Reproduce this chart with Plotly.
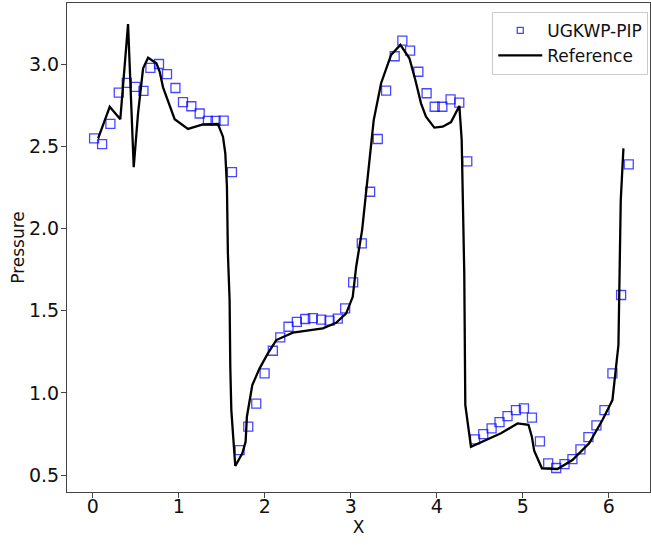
import plotly.graph_objects as go

# UGKWP-PIP markers
ugk_x = [0.015, 0.108, 0.205, 0.302, 0.395, 0.496, 0.589, 0.670, 0.770, 0.863, 0.961,
         1.049, 1.146, 1.243, 1.339, 1.428, 1.522, 1.618,
         1.707, 1.808, 1.901, 1.998, 2.094, 2.180, 2.276, 2.373, 2.470, 2.559, 2.656,
         2.753, 2.849, 2.935, 3.028,
         3.128, 3.225, 3.314, 3.411, 3.511, 3.600, 3.690, 3.786, 3.882, 3.976, 4.065,
         4.161, 4.262, 4.355,
         4.445, 4.541, 4.638, 4.730, 4.823, 4.921, 5.014, 5.107, 5.200, 5.296, 5.389,
         5.486, 5.578, 5.671, 5.764, 5.857, 5.950, 6.043, 6.144, 6.233]
ugk_p = [2.548, 2.513, 2.636, 2.826, 2.885, 2.861, 2.836, 2.976, 3.000, 2.939, 2.854,
         2.768, 2.743, 2.699, 2.654, 2.654, 2.656, 2.343,
         0.652, 0.794, 0.934, 1.119, 1.256, 1.338, 1.402, 1.432, 1.449, 1.455, 1.445,
         1.439, 1.451, 1.514, 1.672,
         1.909, 2.223, 2.544, 2.838, 3.047, 3.142, 3.081, 2.953, 2.822, 2.740, 2.740,
         2.785, 2.765, 2.408,
         0.717, 0.749, 0.784, 0.822, 0.859, 0.895, 0.906, 0.849, 0.705, 0.571, 0.543,
         0.567, 0.597, 0.656, 0.731, 0.802, 0.895, 1.119, 1.595, 2.390]

# Reference solution
ref_x = [0.062, 0.197, 0.320, 0.410, 0.476, 0.526, 0.585, 0.643, 0.740, 0.778, 0.817,
         0.952, 1.107, 1.281, 1.455, 1.514, 1.541, 1.560, 1.571, 1.591, 1.599, 1.611,
         1.657, 1.739, 1.777, 1.792, 1.855, 1.940, 2.036, 2.134, 2.326, 2.675, 2.830,
         2.947, 3.023, 3.063, 3.132, 3.159, 3.210, 3.267, 3.353, 3.469, 3.577, 3.682,
         3.751, 3.817, 3.875, 3.972, 4.069, 4.166, 4.263, 4.290, 4.320, 4.332, 4.398,
         4.747, 4.940, 5.067, 5.106, 5.133, 5.223, 5.404, 5.578, 5.772, 5.927, 6.043,
         6.113, 6.121, 6.140, 6.171]
ref_p = [2.548, 2.740, 2.664, 3.243, 2.372, 2.700, 2.974, 3.038, 3.004, 2.953, 2.858,
         2.664, 2.605, 2.633, 2.635, 2.558, 2.457, 2.254, 1.850, 1.564, 1.159, 0.895,
         0.555, 0.632, 0.703, 0.855, 1.047, 1.149, 1.240, 1.321, 1.366, 1.392, 1.426,
         1.483, 1.584, 1.767, 1.990, 2.132, 2.375, 2.659, 2.883, 3.055, 3.116, 3.035,
         2.903, 2.761, 2.680, 2.613, 2.619, 2.647, 2.745, 2.538, 1.727, 0.926, 0.672,
         0.754, 0.814, 0.806, 0.733, 0.648, 0.541, 0.537, 0.591, 0.693, 0.835, 0.956,
         1.291, 1.605, 2.173, 2.487]

x_ticks = [0, 1, 2, 3, 4, 5, 6]
y_ticks = [0.5, 1.0, 1.5, 2.0, 2.5, 3.0]
y_tick_text = ["0.5", "1.0", "1.5", "2.0", "2.5", "3.0"]

blue = "rgba(0,0,255,0.72)"
fig = go.Figure()
fig.add_trace(go.Scatter(
    x=ugk_x, y=ugk_p, mode="markers", name="UGKWP-PIP", showlegend=False,
    marker=dict(symbol="square-open", size=9, color=blue,
                line=dict(width=1.3, color=blue))))
# legend entry with a smaller symbol, like the reference legend
fig.add_trace(go.Scatter(
    x=[None], y=[None], mode="markers", name="UGKWP-PIP",
    marker=dict(symbol="square-open", size=6, color=blue,
                line=dict(width=1.3, color=blue))))
fig.add_trace(go.Scatter(
    x=ref_x, y=ref_p, mode="lines", name="Reference",
    line=dict(color="black", width=2.3)))

font_family = "DejaVu Sans"
fig.update_layout(
    width=651, height=545,
    margin=dict(l=67, r=1, t=3, b=53),
    paper_bgcolor="white", plot_bgcolor="white",
    font=dict(family=font_family, size=17, color="#111"),
    showlegend=True,
    legend=dict(x=0.997, y=0.982, xanchor="right", yanchor="top",
                bgcolor="rgba(255,255,255,0.9)", bordercolor="#cccccc", borderwidth=1,
                font=dict(size=17, family=font_family, color="#111"),
                tracegroupgap=0, itemwidth=44),
    xaxis=dict(range=[-0.30, 6.48], tickvals=x_ticks, ticks="outside", ticklen=5,
               tickwidth=1, tickcolor="#444", showline=True, linecolor="#444",
               linewidth=1, mirror=True, showgrid=False, zeroline=False,
               ticklabelstandoff=-8,
               title=dict(text="X", font=dict(size=17), standoff=2),
               tickfont=dict(size=19)),
    yaxis=dict(range=[0.397, 3.371], tickvals=y_ticks, ticktext=y_tick_text,
               ticks="outside", ticklen=5, tickwidth=1, tickcolor="#444",
               showline=True, linecolor="#444", linewidth=1, mirror=True,
               showgrid=False, zeroline=False, ticklabelstandoff=-2,
               title=dict(text="Pressure", font=dict(size=17), standoff=0),
               tickfont=dict(size=19)),
)

fig.write_html("out.html")
